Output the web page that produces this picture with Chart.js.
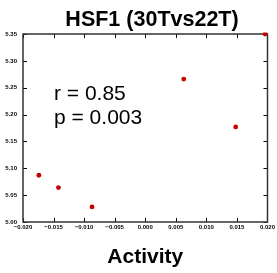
<!DOCTYPE html>
<html>
<head>
<meta charset="utf-8">
<script src="https://cdn.jsdelivr.net/npm/chart.js@4.4.1/dist/chart.umd.min.js"></script>
<style>
  html, body { margin: 0; padding: 0; background: #fff; }
  #wrap { width: 277px; height: 273px; }
</style>
</head>
<body>
<div id="wrap"><canvas id="scatterChart" width="277" height="273"></canvas></div>
<script>
// =========================
// Données
// =========================

const activity = [-0.0174, -0.0142, -0.0087, 0.0063, 0.0148, 0.0196];
const expression = [5.087, 5.064, 5.028, 5.266, 5.177, 5.350];
const xTicks = [-0.020, -0.015, -0.010, -0.005, 0.000, 0.005, 0.010, 0.015, 0.020];
const yTicks = [5.00, 5.05, 5.10, 5.15, 5.20, 5.25, 5.30, 5.35];
const chartTitle = 'HSF1 (30Tvs22T)';
const statsLines = ['r = 0.85', 'p = 0.003'];

const points = activity.map((x, i) => ({ x: x, y: expression[i] }));

// =========================
// Cadre + graduations vers l'intérieur (style matplotlib)
// =========================

const frameTicks = {
  id: 'frameTicks',
  beforeDatasetsDraw(chart) {
    const { ctx, chartArea: a, scales } = chart;
    ctx.save();
    ctx.strokeStyle = '#000';
    ctx.lineWidth = 1;
    ctx.beginPath();
    xTicks.forEach(v => {
      const px = Math.round(scales.x.getPixelForValue(v)) + 0.5;
      ctx.moveTo(px, a.bottom); ctx.lineTo(px, a.bottom - 4);
      ctx.moveTo(px, a.top); ctx.lineTo(px, a.top + 4);
    });
    yTicks.forEach(v => {
      const py = Math.round(scales.y.getPixelForValue(v)) + 0.5;
      ctx.moveTo(a.left, py); ctx.lineTo(a.left + 4, py);
      ctx.moveTo(a.right, py); ctx.lineTo(a.right - 4, py);
    });
    ctx.stroke();
    ctx.strokeStyle = '#333';
    ctx.lineWidth = 1.5;
    ctx.strokeRect(a.left, a.top, a.right - a.left, a.bottom - a.top);

    ctx.fillStyle = '#000';
    // titre (un peu décalé à droite comme l'original)
    ctx.font = 'bold 21.5px "Liberation Sans", Arial, sans-serif';
    ctx.textAlign = 'center';
    ctx.textBaseline = 'alphabetic';
    ctx.fillText(chartTitle, 152, 25.5);

    // texte r / p
    ctx.font = '21px "Liberation Sans", Arial, sans-serif';
    ctx.textAlign = 'left';
    statsLines.forEach((t, i) => {
      ctx.fillText(t, a.left + 31, a.top + 66 + i * 24);
    });
    ctx.restore();
  }
};

// =========================
// Nuage de points
// =========================

const ctx = document.getElementById('scatterChart');

new Chart(ctx, {
  type: 'scatter',
  data: {
    datasets: [{
      data: points,
      backgroundColor: '#c40000',
      borderColor: '#c40000',
      pointRadius: 2.4,
      pointHoverRadius: 2.4,
      borderWidth: 0,
      clip: 1.5
    }]
  },
  options: {
    responsive: false,
    animation: false,
    layout: { padding: { left: 0, right: 9, top: 34, bottom: 0 } },
    plugins: {
      legend: { display: false },
      tooltip: { enabled: false },
      title: { display: false }
    },
    scales: {
      x: {
        type: 'linear',
        min: -0.02,
        max: 0.02,
        afterFit(scale) { scale.height = 51; },
        afterBuildTicks(scale) { scale.ticks = xTicks.map(v => ({ value: v })); },
        grid: { display: false, drawTicks: false },
        border: { display: false },
        ticks: {
          padding: 2,
          color: '#000',
          maxRotation: 0,
          autoSkip: false,
          font: { family: '"Liberation Sans", Arial, sans-serif', size: 6, weight: 'bold' },
          callback: v => v.toFixed(3).replace('-', '\u2212')
        },
        title: {
          display: true,
          text: 'Activity',
          color: '#000',
          font: { family: '"Liberation Sans", Arial, sans-serif', size: 21, weight: 'bold', lineHeight: 1.2 },
          padding: { top: 0, bottom: 3 }
        }
      },
      y: {
        type: 'linear',
        min: 5.0,
        max: 5.35,
        afterFit(scale) { scale.width = 23; },
        afterBuildTicks(scale) { scale.ticks = yTicks.map(v => ({ value: v })); },
        grid: { display: false, drawTicks: false },
        border: { display: false },
        ticks: {
          padding: 6,
          color: '#000',
          autoSkip: false,
          font: { family: '"Liberation Sans", Arial, sans-serif', size: 6, weight: 'bold' },
          callback: v => v.toFixed(2)
        }
      }
    }
  },
  plugins: [frameTicks]
});
</script>
</body>
</html>
